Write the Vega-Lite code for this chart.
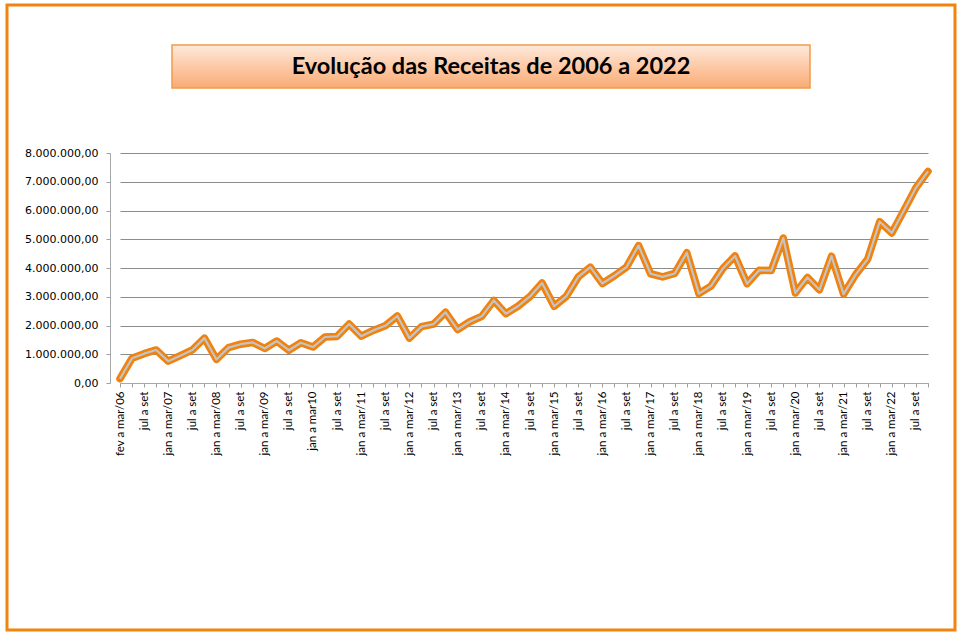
{
  "$schema": "https://vega.github.io/schema/vega-lite/v6.json",
  "background": "white",
  "autosize": {"type": "none"},
  "padding": {"left": 7, "top": 5, "right": 5, "bottom": 3},
  "width": 948,
  "height": 625,
  "view": {"stroke": "#f0840f", "strokeWidth": 3},
  "config": {
    "locale": {"number": {"decimal": ",", "thousands": ".", "grouping": [3], "currency": ["R$ ", ""]}}
  },
  "title": {
    "text": "Evolução das Receitas de 2006 a 2022",
    "font": "Lato", "fontSize": 23.5, "fontWeight": "bold", "color": "#000000",
    "anchor": "middle", "frame": "group", "baseline": "middle",
    "offset": -61, "dx": 10, "dy": 24, "zindex": 2
  },
  "data": {"values": [
    {"periodo": "fev a mar/06", "receita": 150000},
    {"periodo": "abr a jun/06", "receita": 860000},
    {"periodo": "jul a set/06", "receita": 1020000},
    {"periodo": "out a dez/06", "receita": 1150000},
    {"periodo": "jan a mar/07", "receita": 760000},
    {"periodo": "abr a jun/07", "receita": 950000},
    {"periodo": "jul a set/07", "receita": 1150000},
    {"periodo": "out a dez/07", "receita": 1560000},
    {"periodo": "jan a mar/08", "receita": 820000},
    {"periodo": "abr a jun/08", "receita": 1230000},
    {"periodo": "jul a set/08", "receita": 1350000},
    {"periodo": "out a dez/08", "receita": 1410000},
    {"periodo": "jan a mar/09", "receita": 1200000},
    {"periodo": "abr a jun/09", "receita": 1460000},
    {"periodo": "jul a set/09", "receita": 1140000},
    {"periodo": "out a dez/09", "receita": 1400000},
    {"periodo": "jan a mar10", "receita": 1250000},
    {"periodo": "abr a jun/10", "receita": 1600000},
    {"periodo": "jul a set/10", "receita": 1620000},
    {"periodo": "out a dez/10", "receita": 2050000},
    {"periodo": "jan a mar/11", "receita": 1630000},
    {"periodo": "abr a jun/11", "receita": 1830000},
    {"periodo": "jul a set/11", "receita": 1990000},
    {"periodo": "out a dez/11", "receita": 2330000},
    {"periodo": "jan a mar/12", "receita": 1560000},
    {"periodo": "abr a jun/12", "receita": 1960000},
    {"periodo": "jul a set/12", "receita": 2050000},
    {"periodo": "out a dez/12", "receita": 2460000},
    {"periodo": "jan a mar/13", "receita": 1860000},
    {"periodo": "abr a jun/13", "receita": 2130000},
    {"periodo": "jul a set/13", "receita": 2320000},
    {"periodo": "out a dez/13", "receita": 2870000},
    {"periodo": "jan a mar/14", "receita": 2410000},
    {"periodo": "abr a jun/14", "receita": 2670000},
    {"periodo": "jul a set/14", "receita": 3010000},
    {"periodo": "out a dez/14", "receita": 3480000},
    {"periodo": "jan a mar/15", "receita": 2670000},
    {"periodo": "abr a jun/15", "receita": 3010000},
    {"periodo": "jul a set/15", "receita": 3690000},
    {"periodo": "out a dez/15", "receita": 4030000},
    {"periodo": "jan a mar/16", "receita": 3460000},
    {"periodo": "abr a jun/16", "receita": 3730000},
    {"periodo": "jul a set/16", "receita": 4030000},
    {"periodo": "out a dez/16", "receita": 4780000},
    {"periodo": "jan a mar/17", "receita": 3800000},
    {"periodo": "abr a jun/17", "receita": 3690000},
    {"periodo": "jul a set/17", "receita": 3810000},
    {"periodo": "out a dez/17", "receita": 4530000},
    {"periodo": "jan a mar/18", "receita": 3110000},
    {"periodo": "abr a jun/18", "receita": 3370000},
    {"periodo": "jul a set/18", "receita": 3990000},
    {"periodo": "out a dez/18", "receita": 4420000},
    {"periodo": "jan a mar/19", "receita": 3450000},
    {"periodo": "abr a jun/19", "receita": 3920000},
    {"periodo": "jul a set/19", "receita": 3910000},
    {"periodo": "out a dez/19", "receita": 5040000},
    {"periodo": "jan a mar/20", "receita": 3130000},
    {"periodo": "abr a jun/20", "receita": 3670000},
    {"periodo": "jul a set/20", "receita": 3240000},
    {"periodo": "out a dez/20", "receita": 4410000},
    {"periodo": "jan a mar/21", "receita": 3090000},
    {"periodo": "abr a jun/21", "receita": 3770000},
    {"periodo": "jul a set/21", "receita": 4310000},
    {"periodo": "out a dez/21", "receita": 5610000},
    {"periodo": "jan a mar/22", "receita": 5220000},
    {"periodo": "abr a jun/22", "receita": 6000000},
    {"periodo": "jul a set/22", "receita": 6790000},
    {"periodo": "out a dez/22", "receita": 7360000}
  ]},
  "encoding": {
    "x": {
      "field": "periodo", "type": "ordinal", "sort": null,
      "scale": {"type": "point", "range": [113, 921], "padding": 0},
      "axis": {
        "title": null, "orient": "bottom", "offset": -247,
        "labelAngle": -90, "labelFont": "Lato", "labelFontSize": 11.5, "labelColor": "#000000",
        "labelOverlap": false, "labelPadding": 4, "tickSize": 4, "tickColor": "#a0a0a0",
        "domainColor": "#a8a8a8", "grid": false,
        "labelExpr": "round(datum.index * 67) % 2 == 1 ? '' : (indexof(datum.label, 'jul a set') == 0 ? 'jul a set' : datum.label)"
      }
    },
    "y": {
      "field": "receita", "type": "quantitative",
      "scale": {"domain": [0, 8000000], "range": [378, 148], "nice": false, "zero": true},
      "axis": {
        "title": null, "offset": -103, "format": ",.2f",
        "values": [0, 1000000, 2000000, 3000000, 4000000, 5000000, 6000000, 7000000, 8000000],
        "labelFont": "DejaVu Sans", "labelFontSize": 11, "labelColor": "#000000", "labelPadding": 8,
        "tickSize": 4, "tickColor": "#a0a0a0", "domainColor": "#a8a8a8",
        "grid": true, "gridColor": "#8c8c8c", "gridWidth": 1.2
      }
    }
  },
  "layer": [
    {
      "mark": {"type": "point", "opacity": 0},
      "encoding": {
        "color": {
          "field": "receita", "type": "quantitative",
          "scale": {"range": ["#f8ab74", "#fde9dc"]},
          "legend": {
            "orient": "none", "legendX": 165, "legendY": 40, "direction": "vertical",
            "title": null, "padding": 0, "gradientLength": 43, "gradientThickness": 638,
            "gradientStrokeColor": "#f29a4c", "gradientStrokeWidth": 1.5,
            "labelExpr": "''", "labelOpacity": 0, "tickCount": 2
          }
        }
      }
    },
    {"mark": {"type": "line", "color": "#f0820f", "strokeWidth": 7.5, "strokeJoin": "round", "strokeCap": "round"}},
    {"mark": {"type": "line", "color": "#c4c4c4", "strokeWidth": 2.2, "strokeJoin": "round"}}
  ]
}
